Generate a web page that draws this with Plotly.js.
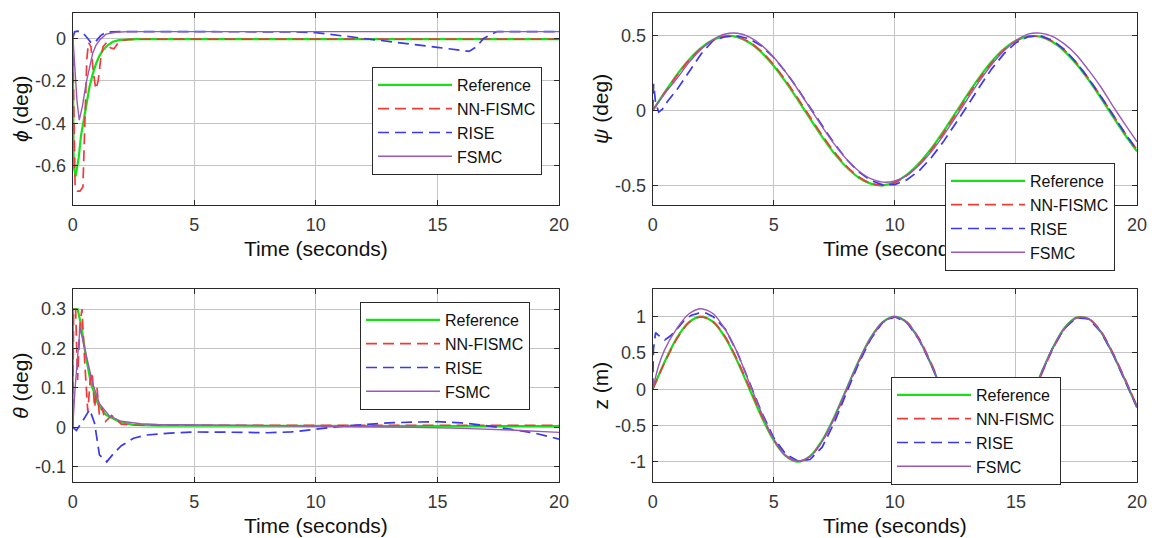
<!DOCTYPE html>
<html>
<head>
<meta charset="utf-8">
<script src="https://cdn.plot.ly/plotly-3.0.1.min.js"></script>
<style>html,body{margin:0;padding:0;background:#fff;}#chart{width:1152px;height:538px;}</style>
</head>
<body>
<div id="chart"></div>
<script>
// ---------- DATA ----------
const seriesNames = ['Reference', 'NN-FISMC', 'RISE', 'FSMC'];
const xTickVals = [0, 5, 10, 15, 20];
const xTickText = ['0', '5', '10', '15', '20'];

// phi (deg)
const phiRefT  = [0, 0.04, 0.12, 0.25, 0.34, 0.45, 0.55, 0.69, 0.82, 0.96, 1.1, 1.24, 1.45, 1.65, 1.9, 2.2, 2.6, 3, 20];
const phiRef   = [0, -0.6, -0.65, -0.56, -0.46, -0.39, -0.33, -0.23, -0.17, -0.12, -0.083, -0.056, -0.032, -0.017, -0.009, -0.006, -0.004, -0.004, -0.004];
const phiNNT   = [0, 0.05, 0.1, 0.2, 0.3, 0.42, 0.5, 0.58, 0.65, 0.75, 0.85, 0.95, 1.05, 1.15, 1.25, 1.4, 1.55, 1.7, 1.85, 2.0, 2.3, 2.7, 3.2, 20];
const phiNN    = [0, -0.35, -0.7, -0.72, -0.72, -0.7, -0.4, -0.1, -0.02, -0.04, -0.16, -0.24, -0.2, -0.1, -0.04, -0.02, -0.045, -0.05, -0.025, -0.012, -0.006, -0.004, -0.004, -0.004];
const phiRiseT = [0, 0.08, 0.2, 0.35, 0.5, 0.62, 0.75, 0.88, 1.0, 1.15, 1.35, 1.6, 2.0, 5, 9, 10, 11, 12, 13, 14, 15, 16, 16.3, 16.6, 16.9, 17.45, 18, 20];
const phiRise  = [0, 0.03, 0.033, 0.03, 0.015, 0.0, -0.02, -0.024, -0.01, 0.012, 0.027, 0.03, 0.031, 0.031, 0.03, 0.026, 0.013, 0.0, -0.015, -0.029, -0.043, -0.057, -0.062, -0.041, -0.001, 0.031, 0.031, 0.031];
const phiFsmcT = [0, 0.08, 0.18, 0.27, 0.4, 0.55, 0.7, 0.82, 0.95, 1.1, 1.37, 1.78, 2.3, 20];
const phiFsmc  = [0.02, -0.12, -0.3, -0.386, -0.32, -0.213, -0.13, -0.072, -0.035, -0.01, 0.019, 0.028, 0.031, 0.031];
const phiTickVals = [-0.6, -0.4, -0.2, 0];
const phiTickText = ['-0.6', '-0.4', '-0.2', '0'];

// psi (deg)
const psiT    = [0, 0.5, 1, 1.5, 2, 2.5, 3, 3.5, 4, 4.5, 5, 5.5, 6, 6.5, 7, 7.5, 8, 8.5, 9, 9.5, 10, 10.5, 11, 11.5, 12, 12.5, 13, 13.5, 14, 14.5, 15, 15.5, 16, 16.5, 17, 17.5, 18, 18.5, 19, 19.5, 20];
const psiRef  = [0, 0.124, 0.240, 0.341, 0.421, 0.474, 0.499, 0.492, 0.455, 0.389, 0.299, 0.191, 0.071, -0.054, -0.175, -0.286, -0.378, -0.448, -0.489, -0.500, -0.479, -0.429, -0.353, -0.255, -0.140, -0.017, 0.108, 0.225, 0.329, 0.412, 0.469, 0.497, 0.495, 0.461, 0.399, 0.312, 0.206, 0.087, -0.038, -0.160, -0.272];
const psiNN   = [0, 0.120, 0.235, 0.337, 0.418, 0.472, 0.498, 0.494, 0.459, 0.395, 0.307, 0.200, 0.081, -0.043, -0.165, -0.277, -0.371, -0.443, -0.487, -0.500, -0.482, -0.434, -0.360, -0.264, -0.151, -0.028, 0.097, 0.215, 0.320, 0.406, 0.466, 0.496, 0.497, 0.465, 0.405, 0.320, 0.216, 0.098, -0.026, -0.149, -0.262];
const psiFsmc = [0, 0.115, 0.215, 0.323, 0.412, 0.476, 0.513, 0.518, 0.493, 0.438, 0.358, 0.256, 0.140, 0.016, -0.108, -0.224, -0.324, -0.403, -0.456, -0.479, -0.471, -0.433, -0.366, -0.276, -0.167, -0.046, 0.078, 0.199, 0.309, 0.399, 0.469, 0.512, 0.519, 0.498, 0.447, 0.373, 0.271, 0.160, 0.032, -0.091, -0.209];
const psiRiseT = [0, 0.04, 0.12, 0.25, 0.4, 0.6, 1.0, 1.5, 2.0, 2.5, 3.0, 3.5, 4.0, 4.5, 5.0, 5.5, 6.0, 6.5, 7.0, 7.5, 8.0, 8.5, 9.0, 9.5, 10.0, 10.5, 11.0, 11.5, 12.0, 12.5, 13.0, 13.5, 14.0, 14.5, 15.0, 15.5, 16.0, 16.5, 17.0, 17.5, 18.0, 18.5, 19.0, 19.5, 20.0];
const psiRise  = [0, 0.18, 0.05, -0.01, 0.01, 0.06, 0.14, 0.26, 0.38, 0.47, 0.495, 0.5, 0.481, 0.432, 0.356, 0.258, 0.144, 0.021, -0.103, -0.221, -0.325, -0.409, -0.467, -0.497, -0.495, -0.463, -0.403, -0.316, -0.209, -0.091, 0.033, 0.16, 0.28, 0.38, 0.455, 0.495, 0.502, 0.472, 0.41, 0.322, 0.215, 0.097, -0.028, -0.15, -0.265];
const psiTickVals = [-0.5, 0, 0.5];
const psiTickText = ['-0.5', '0', '0.5'];

// theta (deg)
const thRefT  = [0, 0.01, 0.2, 0.34, 0.55, 0.75, 1.03, 1.37, 1.92, 2.47, 3.5, 5, 10, 15, 20];
const thRef   = [0, 0.3, 0.3, 0.261, 0.177, 0.111, 0.061, 0.031, 0.014, 0.006, 0.004, 0.004, 0.004, 0.003, 0.003];
const thNNT   = [0, 0.04, 0.12, 0.2, 0.3, 0.38, 0.5, 0.62, 0.72, 0.8, 0.9, 1.0, 1.1, 1.2, 1.35, 1.6, 2.0, 2.5, 3, 20];
const thNN    = [0, 0.3, 0.3, 0.12, 0.26, 0.3, 0.16, 0.04, 0.12, 0.14, 0.05, 0.1, 0.03, 0.05, 0.015, 0.03, 0.008, 0.005, 0.005, 0.005];
const thRiseT = [0, 0.15, 0.4, 0.7, 0.9, 1.1, 1.4, 1.7, 2.0, 2.5, 3, 4, 5, 6, 7, 8, 9, 10, 11, 12, 13, 14, 15, 16, 17, 18, 19, 20];
const thRise  = [0, -0.008, 0.015, 0.045, 0.01, -0.07, -0.088, -0.065, -0.047, -0.028, -0.02, -0.015, -0.012, -0.012, -0.013, -0.014, -0.012, -0.005, 0.002, 0.007, 0.011, 0.013, 0.014, 0.011, 0.004, -0.005, -0.015, -0.03];
const thFsmcT = [0, 0.1, 0.3, 0.55, 0.82, 1.1, 1.5, 2.0, 2.8, 3.5, 5, 8, 10, 12, 14, 16, 18, 20];
const thFsmc  = [0, 0.1, 0.253, 0.186, 0.111, 0.06, 0.029, 0.015, 0.009, 0.007, 0.006, 0.004, 0.003, 0.002, 0, -0.003, -0.007, -0.013];
const thTickVals = [-0.1, 0, 0.1, 0.2, 0.3];
const thTickText = ['-0.1', '0', '0.1', '0.2', '0.3'];

// z (m)
const zT    = [0, 0.5, 1, 1.5, 2, 2.5, 3, 3.5, 4, 4.5, 5, 5.5, 6, 6.5, 7, 7.5, 8, 8.5, 9, 9.5, 10, 10.5, 11, 11.5, 12, 12.5, 13, 13.5, 14, 14.5, 15, 15.5, 16, 16.5, 17, 17.5, 18, 18.5, 19, 19.5, 20];
const zRef  = [0, 0.383, 0.707, 0.924, 1, 0.924, 0.707, 0.383, 0, -0.383, -0.707, -0.924, -1, -0.924, -0.707, -0.383, 0, 0.383, 0.707, 0.924, 1, 0.918, 0.685, 0.34, -0.061, -0.452, -0.77, -0.961, -0.992, -0.862, -0.592, -0.226, 0.183, 0.556, 0.84, 0.987, 0.97, 0.794, 0.489, 0.13, -0.25];
const zNN   = [0, 0.37, 0.695, 0.917, 0.999, 0.93, 0.72, 0.4, 0.02, -0.365, -0.694, -0.917, -0.999, -0.93, -0.72, -0.4, -0.02, 0.365, 0.694, 0.917, 0.999, 0.925, 0.7, 0.36, -0.04, -0.435, -0.758, -0.955, -0.995, -0.872, -0.61, -0.248, 0.16, 0.538, 0.828, 0.983, 0.975, 0.805, 0.505, 0.145, -0.235];
const zFsmcT = [0, 0.25, 0.5, 1.0, 1.5, 2.0, 2.5, 3.0, 3.5, 4.0, 4.5, 5.0, 5.5, 6.0, 6.5, 7.0, 7.5, 8.0, 8.5, 9, 9.5, 10, 10.5, 11, 11.5, 12, 12.5, 13, 13.5, 14, 14.5, 15, 15.5, 16, 16.5, 17, 17.5, 18, 18.5, 19, 19.5, 20];
const zFsmc  = [0, 0.33, 0.55, 0.84, 1.04, 1.11, 1.04, 0.82, 0.5, 0.08, -0.33, -0.69, -0.92, -0.99, -0.93, -0.72, -0.39, 0, 0.383, 0.707, 0.924, 1, 0.918, 0.685, 0.34, -0.061, -0.452, -0.77, -0.961, -0.992, -0.862, -0.592, -0.226, 0.183, 0.556, 0.84, 0.987, 0.97, 0.794, 0.489, 0.13, -0.25];
const zRiseT = [0, 0.03, 0.12, 0.25, 0.5, 0.75, 1.0, 1.33, 1.6, 1.9, 2.2, 2.5, 3.0, 3.5, 4.0, 4.5, 5.0, 5.5, 6.0, 6.5, 7.0, 7.5, 8.0, 8.5, 9.0, 9.5, 10, 10.5, 11, 11.5, 12, 12.5, 13, 13.5, 14, 14.5, 15, 15.5, 16, 16.5, 17, 17.5, 18, 18.5, 19, 19.5, 20];
const zRise  = [0, 0.55, 0.78, 0.74, 0.68, 0.74, 0.83, 0.96, 1.02, 1.05, 1.05, 1.0, 0.83, 0.5, 0.09, -0.32, -0.67, -0.9, -0.99, -0.97, -0.8, -0.46, -0.05, 0.35, 0.69, 0.924, 1, 0.918, 0.685, 0.34, -0.061, -0.452, -0.77, -0.961, -0.992, -0.862, -0.592, -0.226, 0.183, 0.556, 0.84, 0.987, 0.97, 0.794, 0.489, 0.13, -0.25];
const zTickVals = [-1, -0.5, 0, 0.5, 1];
const zTickText = ['-1', '-0.5', '0', '0.5', '1'];

// ---------- STYLE ----------
const W = 1152, H = 538;
const FONT = 'Liberation Sans, Arial, Helvetica, sans-serif';
const lineStyles = [
  {color: '#16e016', width: 2.2, dash: 'solid'},
  {color: '#f03a3a', width: 1.7, dash: '11px,6px'},
  {color: '#3a3ae8', width: 1.7, dash: '11px,6px'},
  {color: '#9a58b8', width: 1.4, dash: 'solid'}
];
function xd(a, b) { return [a / W, b / W]; }
function yd(top, bottom) { return [1 - bottom / H, 1 - top / H]; }

function mk(xs, ys, idx, ax, legendId, shape) {
  return {
    x: xs, y: ys, type: 'scatter', mode: 'lines',
    name: seriesNames[idx],
    xaxis: 'x' + ax, yaxis: 'y' + ax,
    legend: legendId,
    line: Object.assign({}, lineStyles[idx], {shape: shape || 'linear', smoothing: 0.8}),
    hoverinfo: 'skip'
  };
}

const traces = [
  mk(phiRefT, phiRef, 0, '', 'legend'),
  mk(phiNNT, phiNN, 1, '', 'legend'),
  mk(phiRiseT, phiRise, 2, '', 'legend'),
  mk(phiFsmcT, phiFsmc, 3, '', 'legend'),

  mk(psiT, psiRef, 0, '2', 'legend2', 'spline'),
  mk(psiT, psiNN, 1, '2', 'legend2', 'spline'),
  mk(psiRiseT, psiRise, 2, '2', 'legend2'),
  mk(psiT, psiFsmc, 3, '2', 'legend2', 'spline'),

  mk(thRefT, thRef, 0, '3', 'legend3'),
  mk(thNNT, thNN, 1, '3', 'legend3'),
  mk(thRiseT, thRise, 2, '3', 'legend3'),
  mk(thFsmcT, thFsmc, 3, '3', 'legend3'),

  mk(zT, zRef, 0, '4', 'legend4', 'spline'),
  mk(zT, zNN, 1, '4', 'legend4', 'spline'),
  mk(zRiseT, zRise, 2, '4', 'legend4'),
  mk(zFsmcT, zFsmc, 3, '4', 'legend4', 'spline')
];

function xAxis(dom, anchor) {
  return {
    domain: dom, anchor: anchor, range: [0, 20],
    tickvals: xTickVals, ticktext: xTickText,
    showline: true, mirror: 'ticks', linecolor: '#2a2a2a', linewidth: 1,
    showgrid: true, gridcolor: '#c4c4c4', gridwidth: 1, zeroline: false,
    ticks: 'inside', ticklen: 5, tickcolor: '#2a2a2a',
    ticklabelstandoff: 3,
    tickfont: {family: FONT, size: 18, color: '#383838'},
    title: {text: 'Time (seconds)', font: {family: FONT, size: 21, color: '#111'}, standoff: 7},
    fixedrange: true
  };
}
function yAxis(dom, anchor, range, tv, tt, title) {
  return {
    domain: dom, anchor: anchor, range: range,
    tickvals: tv, ticktext: tt,
    showline: true, mirror: 'ticks', linecolor: '#2a2a2a', linewidth: 1,
    showgrid: true, gridcolor: '#c4c4c4', gridwidth: 1, zeroline: false,
    ticks: 'inside', ticklen: 5, tickcolor: '#2a2a2a',
    ticklabelstandoff: 2,
    tickfont: {family: FONT, size: 18, color: '#383838'},
    title: {text: title, font: {family: FONT, size: 21, color: '#111'}, standoff: 0},
    fixedrange: true
  };
}
function legendAt(px, py) {
  return {
    x: px / W, y: 1 - py / H, xanchor: 'left', yanchor: 'top',
    bgcolor: '#ffffff', bordercolor: '#2a2a2a', borderwidth: 1,
    font: {family: FONT, size: 16, color: '#111'},
    itemwidth: 74, tracegroupgap: 0, traceorder: 'normal'
  };
}

const layout = {
  width: W, height: H, autosize: false,
  margin: {l: 0, r: 0, t: 0, b: 0, pad: 0},
  paper_bgcolor: '#ffffff', plot_bgcolor: '#ffffff',
  showlegend: true,
  xaxis:  xAxis(xd(72.7, 559), 'y'),
  yaxis:  yAxis(yd(12.7, 205), 'x', [-0.785, 0.12], phiTickVals, phiTickText, '<i>ϕ</i> (deg)'),
  xaxis2: xAxis(xd(652.7, 1137), 'y2'),
  yaxis2: yAxis(yd(12.7, 205), 'x2', [-0.632, 0.656], psiTickVals, psiTickText, '<i>ψ</i> (deg)'),
  xaxis3: xAxis(xd(72.7, 559), 'y3'),
  yaxis3: yAxis(yd(289.3, 482), 'x3', [-0.139, 0.35], thTickVals, thTickText, '<i>θ</i> (deg)'),
  xaxis4: xAxis(xd(652.7, 1137), 'y4'),
  yaxis4: yAxis(yd(289.3, 482), 'x4', [-1.28, 1.378], zTickVals, zTickText, 'z (m)'),
  legend:  legendAt(372, 67),
  legend2: legendAt(945, 163),
  legend3: legendAt(360, 302),
  legend4: legendAt(891, 377)
};

Plotly.newPlot('chart', traces, layout, {displayModeBar: false, staticPlot: true}).then(function (gd) {
  // keep legends drawn above the axis titles
  const info = gd.querySelector('g.infolayer');
  if (info) {
    ['legend', 'legend2', 'legend3', 'legend4'].forEach(function (c) {
      const g = info.querySelector(':scope > g.' + c);
      if (g) info.appendChild(g);
    });
  }
});
</script>
</body>
</html>
